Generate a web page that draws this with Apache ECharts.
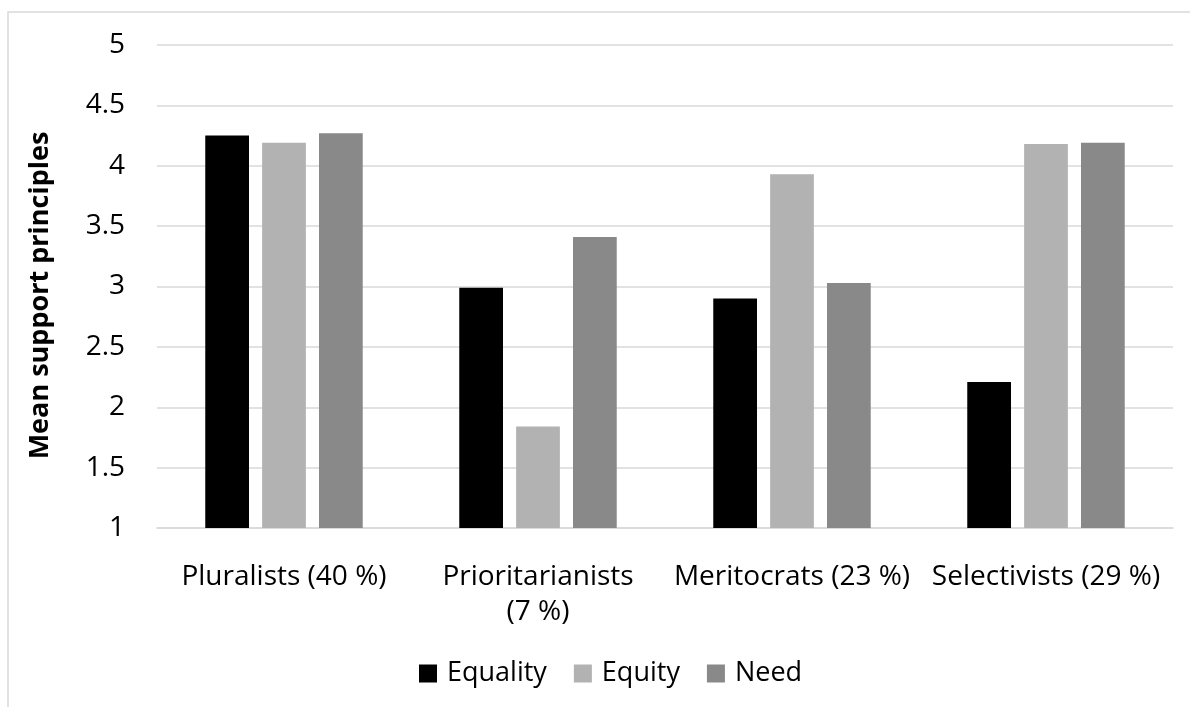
<!DOCTYPE html>
<html>
<head>
<meta charset="utf-8">
<script src="https://cdn.jsdelivr.net/npm/echarts@6/dist/echarts.min.js"></script>
<style>
  html, body { margin: 0; padding: 0; background: #ffffff; }
  #chart { width: 1190px; height: 707px; }
</style>
</head>
<body>
<div id="chart"></div>
<script>
// Mean support for three distribution principles, by cluster
const categories = ['Pluralists (40 %)', 'Prioritarianists\n(7 %)', 'Meritocrats (23 %)', 'Selectivists (29 %)'];
const equality = [4.25, 2.99, 2.90, 2.21];
const equity   = [4.19, 1.84, 3.93, 4.18];
const need     = [4.27, 3.41, 3.03, 4.19];
const yTicks = { min: 1, max: 5, interval: 0.5 };

const FONT = '"Open Sans", "Noto Sans", sans-serif';

const chart = echarts.init(document.getElementById('chart'), null, { renderer: 'canvas' });

const barBase = { type: 'bar', barGap: '30%', barCategoryGap: '38%' };

chart.setOption({
  backgroundColor: '#ffffff',
  animation: false,
  textStyle: { fontFamily: FONT },
  graphic: [{
    type: 'rect',
    shape: { x: 8, y: 12, width: 1220, height: 740 },
    style: { fill: 'none', stroke: '#d9d9d9', lineWidth: 1.5 },
    silent: true
  }],
  grid: { left: 157, right: 17, top: 45, bottom: 179 },
  legend: {
    bottom: 15,
    left: 414,
    itemWidth: 18,
    itemHeight: 18,
    itemGap: 27,
    icon: 'rect',
    textStyle: { fontSize: 27, color: '#000000', fontFamily: FONT, padding: [0, 0, 0, 5] },
    data: ['Equality', 'Equity', 'Need']
  },
  xAxis: {
    type: 'category',
    data: categories,
    axisLine: { show: true, lineStyle: { color: '#d9d9d9', width: 1.5 } },
    axisTick: { show: false },
    axisLabel: { fontSize: 28, color: '#000000', margin: 32, lineHeight: 35, fontFamily: FONT, interval: 0 }
  },
  yAxis: {
    type: 'value',
    min: yTicks.min,
    max: yTicks.max,
    interval: yTicks.interval,
    name: 'Mean support principles',
    nameLocation: 'middle',
    nameRotate: 90,
    nameGap: 103,
    nameTextStyle: { fontSize: 27, fontWeight: 'bold', color: '#000000', fontFamily: FONT, padding: [0, 18, 0, 0] },
    axisLine: { show: false },
    axisTick: { show: false },
    axisLabel: { fontSize: 28, color: '#000000', margin: 32, fontFamily: FONT },
    splitLine: { lineStyle: { color: '#d9d9d9', width: 1.5 } }
  },
  series: [
    Object.assign({ name: 'Equality', data: equality, itemStyle: { color: '#000000' } }, barBase),
    Object.assign({ name: 'Equity', data: equity, itemStyle: { color: '#b2b2b2' } }, barBase),
    Object.assign({ name: 'Need', data: need, itemStyle: { color: '#898989' } }, barBase)
  ]
});
</script>
</body>
</html>
